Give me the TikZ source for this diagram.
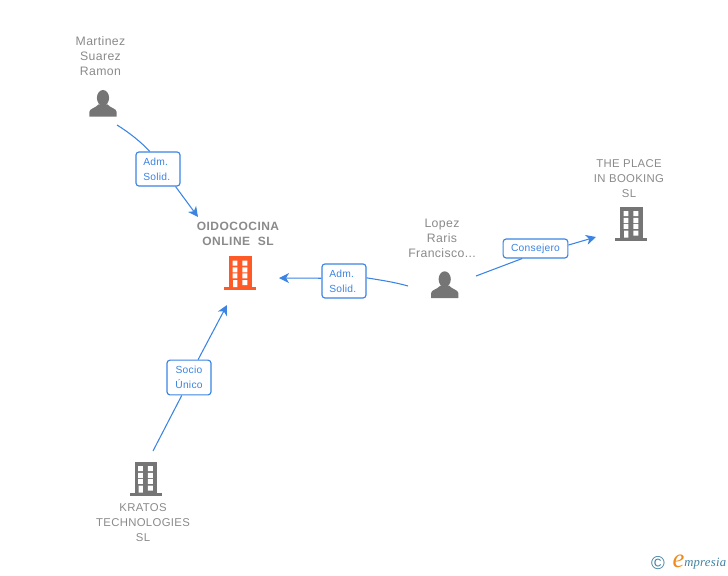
\documentclass[tikz,border=0pt]{standalone}
\usepackage{fontspec}
\setmainfont{Liberation Sans}
\newfontfamily\lblfont[LetterSpace=3]{Liberation Sans}
\newfontfamily\boxfont[LetterSpace=2.5]{Liberation Sans}
\newfontfamily\boldlbl[LetterSpace=4]{Liberation Sans Bold}
\newfontfamily\logofont[LetterSpace=2]{Liberation Serif Italic}
\usetikzlibrary{arrows.meta}
\definecolor{linkblue}{HTML}{3B84E3}
\definecolor{txtgray}{HTML}{8A8A8A}
\definecolor{icongray}{HTML}{757575}
\definecolor{iconorange}{HTML}{FF5A26}
\definecolor{logoblue}{HTML}{3F7F9F}
\definecolor{logoorange}{HTML}{F08A1D}
\tikzset{
  x=0.75pt,y=-0.75pt,
  entname/.style={align=center,inner sep=0pt,text=txtgray,font=\lblfont\fontsize{8.5pt}{11.25pt}\selectfont},
  persname/.style={align=center,inner sep=0pt,text=txtgray,font=\lblfont\fontsize{9.2pt}{11.25pt}\selectfont},
  mainname/.style={align=center,inner sep=0pt,text=txtgray,font=\boldlbl\fontsize{9pt}{11.25pt}\selectfont},
  linkbox/.style={draw=linkblue,line width=0.85pt,rounded corners=2.2pt,fill=white,inner sep=0pt,
    text=linkblue,font=\boxfont\fontsize{7.7pt}{11.25pt}\selectfont},
  linkline/.style={draw=linkblue,line width=0.8pt},
  arrowtip/.style={-{Stealth[length=7.5pt,width=7.5pt,inset=2.2pt]}},
  building/.pic={
    \fill[#1] (-10.7,-17) rectangle (11.7,14);
    \fill[#1] (-15.7,14) rectangle (16,17);
    \fill[white] (-7.3,-12.3) rectangle (-2.7,-7.3) (2.3,-12.3) rectangle (7.3,-7.3)
      (-7.3,-5.7) rectangle (-2.7,-0.7) (2.3,-5.7) rectangle (7.3,-0.7)
      (-7.3,0.3) rectangle (-2.7,5.3) (2.3,0.3) rectangle (7.3,5.3)
      (-7,7) rectangle (-2.7,14) (2.3,7) rectangle (7.3,12);
  },
  person/.pic={
    \fill[icongray] (0,-5.5) ellipse (6.1 and 7.9);
    \fill[icongray] (-13.7,13.3) -- (-13.7,8.5) .. controls (-13.5,5) and (-7,4.5) .. (-4.5,1)
      -- (4.5,1) .. controls (7,4.5) and (13.5,5) .. (13.7,8.5) -- (13.7,13.3) -- cycle;
  }
}
\begin{document}
\begin{tikzpicture}
\useasboundingbox (0,0) rectangle (728,575);
% icons
\pic at (103,103.4) {person};
\pic at (444.7,284.7) {person};
\pic at (240,273) {building=iconorange};
\pic at (631,223.5) {building=icongray};
\pic at (145.5,478.5) {building=icongray};
% names
\node[persname] (martinez) at (100.5,56) {Martinez\\Suarez\\Ramon};
\node[persname] (lopez) at (442,238) {Lopez\\Raris\\Francisco...};
\node[entname] (place) at (629,178.6) {THE PLACE\\IN BOOKING\\SL};
\node[entname] (kratos) at (143,522.8) {KRATOS\\TECHNOLOGIES\\SL};
\node[mainname] (oido) at (238,234) {OIDOCOCINA\\ONLINE\ \ SL};
% link labels
\node[linkbox,minimum width=33pt,minimum height=25.5pt,text width=22pt,align=left] (lblA) at (158,169) {Adm.\\Solid.};
\node[linkbox,minimum width=33pt,minimum height=25.5pt,text width=22pt,align=left] (lblB) at (344,281) {Adm.\\Solid.};
\node[linkbox,minimum width=48.5pt,minimum height=14.2pt] (lblC) at (535.5,248.5) {Consejero};
\node[linkbox,minimum width=33pt,minimum height=26pt,align=center] (lblD) at (189,377.5) {Socio\\Único};
% free ends
\coordinate (a0) at (117,125);
\coordinate (a1) at (198,217);
\coordinate (b0) at (408,286);
\coordinate (b1) at (279,278);
\coordinate (c0) at (476,276);
\coordinate (c1) at (596,237);
\coordinate (d0) at (153,451);
\coordinate (d1) at (227,305);
% connectors
\draw[linkline] (a0) .. controls (130,133) and (142,143) .. (lblA.115);
\draw[linkline,arrowtip] (lblA.-45) -- (a1);
\draw[linkline] (b0) .. controls (394,282) and (380,280) .. (lblB.8);
\draw[linkline,arrowtip] (lblB.173) -- (b1);
\draw[linkline] (c0) -- (lblC.217);
\draw[linkline,arrowtip] (lblC.6) -- (c1);
\draw[linkline] (d0) -- (lblD.248);
\draw[linkline,arrowtip] (lblD.63) -- (d1);
% logo
\node[inner sep=0pt,text=logoblue,font=\fontsize{14pt}{15pt}\selectfont] (copy) at (658,563.5) {©};
\node[inner sep=0pt,text=logoorange,font=\logofont\fontsize{20pt}{22pt}\selectfont] (logoe) at (678.5,561.5) {e};
\node[inner sep=0pt,anchor=west,text=logoblue,font=\logofont\fontsize{9.5pt}{12pt}\selectfont] (logot) at (684,564) {mpresia};
\end{tikzpicture}
\end{document}
